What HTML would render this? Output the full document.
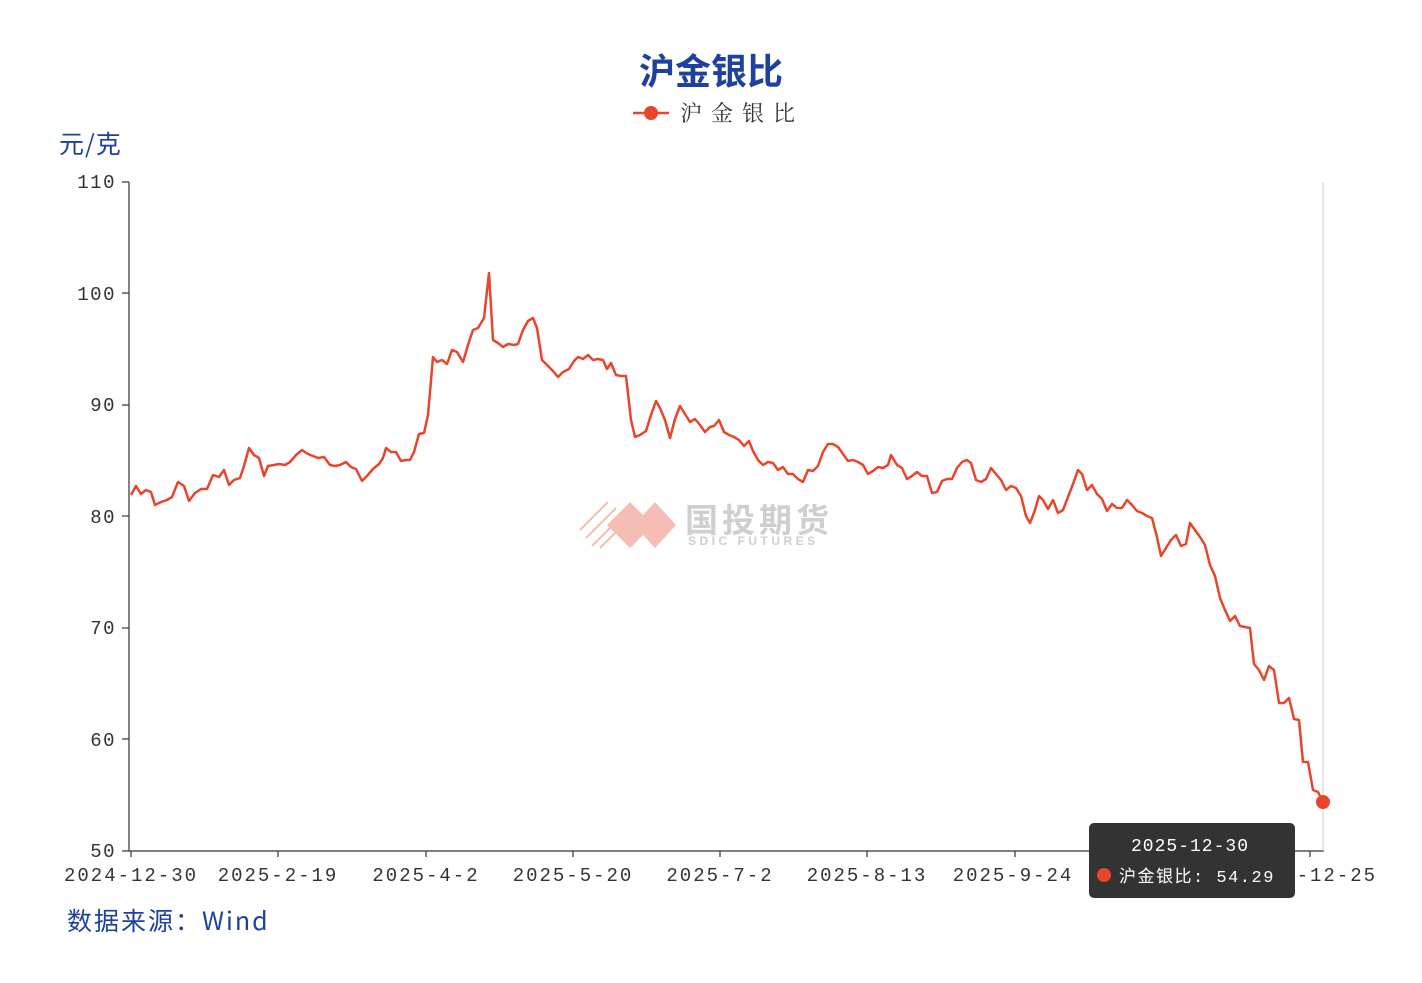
<!DOCTYPE html>
<html><head><meta charset="utf-8"><style>
body{margin:0;background:#fff;width:1422px;height:978px;overflow:hidden}
text{font-family:"Liberation Sans","Noto Sans CJK SC",sans-serif}
.m{font-family:"Liberation Mono","Noto Sans CJK SC",monospace}
</style></head><body>
<svg width="1422" height="978" xmlns="http://www.w3.org/2000/svg">
<text x="711" y="84" text-anchor="middle" font-size="36" font-weight="bold" fill="#1e40a0" style="font-family:'Noto Sans CJK SC',sans-serif">沪金银比</text>
<line x1="633" y1="113" x2="669" y2="113" stroke="#e8452c" stroke-width="2.5"/>
<circle cx="651" cy="113" r="7" fill="#e8452c"/>
<text x="680" y="121" font-size="22" fill="#333" letter-spacing="9" style="font-family:'Noto Serif CJK SC',serif">沪金银比</text>
<text x="59" y="153" font-size="25" fill="#1e40a0" letter-spacing="1" style="font-family:'Noto Sans CJK SC',sans-serif">元/克</text>
<g font-size="19" fill="#333" text-anchor="end" letter-spacing="1.5" class="m">
<text x="116" y="188" class="m">110</text><text x="116" y="300" class="m">100</text><text x="116" y="411" class="m">90</text><text x="116" y="523" class="m">80</text><text x="116" y="634" class="m">70</text><text x="116" y="746" class="m">60</text><text x="116" y="857" class="m">50</text>
</g>
<g stroke="#333" stroke-width="1.2">
<line x1="129" y1="182" x2="129" y2="851"/><line x1="129" y1="851" x2="1324" y2="851"/>
<line x1="122" y1="182" x2="129" y2="182"/><line x1="122" y1="293" x2="129" y2="293"/><line x1="122" y1="405" x2="129" y2="405"/><line x1="122" y1="516" x2="129" y2="516"/><line x1="122" y1="628" x2="129" y2="628"/><line x1="122" y1="739" x2="129" y2="739"/><line x1="122" y1="851" x2="129" y2="851"/>
<line x1="131" y1="851" x2="131" y2="857"/><line x1="278" y1="851" x2="278" y2="857"/><line x1="426" y1="851" x2="426" y2="857"/><line x1="573" y1="851" x2="573" y2="857"/><line x1="720" y1="851" x2="720" y2="857"/><line x1="867" y1="851" x2="867" y2="857"/><line x1="1015" y1="851" x2="1015" y2="857"/><line x1="1162" y1="851" x2="1162" y2="857"/><line x1="1310" y1="851" x2="1310" y2="857"/>
</g>
<line x1="1323" y1="182" x2="1323" y2="851" stroke="#ccc" stroke-width="1"/>
<g font-size="19" fill="#333" text-anchor="middle" letter-spacing="2">
<text x="131" y="881" class="m">2024-12-30</text><text x="278" y="881" class="m">2025-2-19</text><text x="426" y="881" class="m">2025-4-2</text><text x="573" y="881" class="m">2025-5-20</text><text x="720" y="881" class="m">2025-7-2</text><text x="867" y="881" class="m">2025-8-13</text><text x="1013" y="881" class="m">2025-9-24</text><text x="1162" y="881" class="m">2025-11-5</text><text x="1310" y="881" class="m">2025-12-25</text>
</g>
<g opacity="0.35">
<polygon points="630,502 653,525 630,548 607,525" fill="#e8452c"/>
<polygon points="655,502 676,525 655,548 634,525" fill="#e8452c"/>
<g stroke="#e8452c" stroke-width="2"><line x1="580" y1="530" x2="608" y2="502"/><line x1="586" y1="538" x2="616" y2="508"/><line x1="592" y1="546" x2="622" y2="516"/><line x1="600" y1="548" x2="628" y2="520"/></g>
<text x="685" y="532" font-size="33" font-weight="bold" fill="#777" letter-spacing="4" style="font-family:'Noto Sans CJK SC',sans-serif">国投期货</text>
<text x="688" y="545" font-size="12" font-weight="bold" fill="#777" letter-spacing="3.5">SDIC FUTURES</text>
</g>
<polyline fill="none" stroke="#e8452c" stroke-width="2.5" stroke-linejoin="round" points="131,495 136,486 141,494 146,490 151,492 155,505 161,502 167,500 172,497 178,482 184,486 189,501 195,493 201,489 207,489 213,475 219,477 224,470 229,485 234,480 240,478 244,466 249,448 254,455 259,458 264,476 268,466 274,465 279,464 285,465 290,462 296,455 302,450 308,454 313,456 318,458 324,457 330,465 335,466 340,465 346,462 351,467 356,469 362,481 367,476 373,469 379,464 383,458 386,448 391,452 396,452 401,461 406,460 410,460 414,452 419,434 424,433 428,415 433,357 437,362 442,360 447,364 452,350 457,352 463,362 468,345 473,330 478,328 484,318 489,273 493,340 498,343 503,347 508,344 514,345 518,344 523,330 528,321 533,318 537,328 542,360 548,366 553,371 558,377 563,372 569,369 574,361 578,357 583,359 588,355 593,360 598,359 603,360 607,369 611,363 616,375 621,376 626,376 631,420 635,437 640,435 646,431 651,415 656,401 660,408 665,420 670,438 675,419 680,406 685,414 690,422 695,419 700,425 705,432 710,427 714,426 719,420 724,432 729,435 734,437 739,440 744,446 749,441 753,451 758,460 763,465 768,462 773,463 778,470 783,467 788,474 793,474 798,479 803,482 808,470 813,471 818,466 823,452 828,444 833,444 838,447 843,454 848,461 853,460 858,462 863,465 868,474 873,471 878,467 883,468 888,465 891,455 897,465 902,468 907,479 912,476 917,472 922,476 927,476 932,493 937,492 942,481 947,479 952,479 957,468 962,462 967,460 971,463 976,480 981,482 986,479 991,468 996,474 1001,480 1006,490 1011,486 1016,488 1021,496 1026,516 1030,523 1035,510 1039,496 1043,500 1048,509 1053,500 1058,513 1063,510 1068,497 1073,484 1078,470 1082,474 1087,490 1092,485 1097,494 1102,499 1107,511 1112,504 1117,508 1122,508 1127,500 1132,505 1137,511 1142,513 1147,516 1152,518 1157,537 1161,556 1166,548 1171,540 1176,535 1181,546 1186,544 1190,523 1195,530 1200,537 1205,545 1210,565 1215,576 1220,598 1225,610 1230,621 1235,616 1240,626 1245,627 1250,628 1254,664 1259,670 1264,680 1269,666 1274,670 1279,703 1284,703 1289,698 1294,719 1299,720 1303,762 1308,762 1313,790 1318,792 1323,802"/>
<circle cx="1323" cy="802" r="7" fill="#e8452c"/>
<rect x="1089" y="823" width="206" height="75" rx="5" fill="#333"/>
<text x="1190" y="851" text-anchor="middle" font-size="18" fill="#fff" letter-spacing="1" class="m">2025-12-30</text>
<circle cx="1104" cy="875" r="7" fill="#e8452c"/>
<text x="1119" y="882" font-size="17" fill="#fff" letter-spacing="1.5" class="m">沪金银比: 54.29</text>
<text x="67" y="930" font-size="25" fill="#1e40a0" letter-spacing="2" style="font-family:'Noto Sans CJK SC',sans-serif">数据来源：Wind</text>
</svg>
</body></html>
